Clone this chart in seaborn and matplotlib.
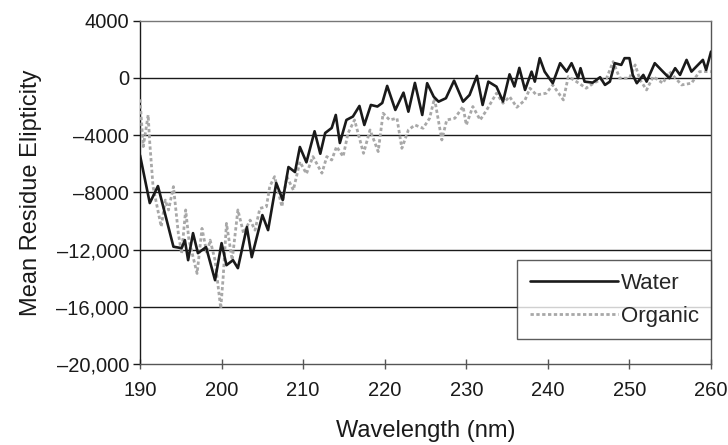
"""CD spectra: water vs organic solvent"""
import matplotlib
matplotlib.use("Agg")
import matplotlib.pyplot as plt
from matplotlib.lines import Line2D
import seaborn as sns
import pandas as pd

# Water spectrum (nm, mean residue ellipticity)
water_nm = [190.0, 191.2, 192.2, 194.1, 195.1, 195.5, 195.9, 196.5, 197.1, 198.1,
            199.2, 200.0, 200.6, 201.4, 202.0, 203.1, 203.7, 205.0, 205.7, 206.7,
            207.5, 208.2, 209.0, 209.6, 210.4, 211.4, 212.1, 212.7, 213.5, 214.0,
            214.5, 215.3, 216.1, 216.9, 217.5, 218.3, 219.1, 219.7, 220.3, 221.3,
            222.3, 222.9, 223.7, 224.6, 225.2, 226.0, 226.6, 227.5, 228.5, 229.6,
            230.4, 231.3, 232.0, 232.7, 233.7, 234.5, 235.3, 235.9, 236.5, 237.2,
            238.0, 238.4, 239.0, 239.6, 240.6, 241.5, 242.3, 242.9, 243.7, 244.0,
            244.5, 245.5, 246.4, 247.0, 247.6, 248.2, 249.0, 249.4, 250.0, 250.4,
            250.9, 251.7, 252.1, 253.1, 254.1, 254.9, 255.6, 256.2, 257.0, 257.6,
            258.4, 259.0, 259.4, 260.0]
water_mre = [-5400, -8750, -7560, -11800, -11900, -11340, -12740, -10850, -12250, -11830,
             -14140, -11550, -13090, -12740, -13300, -10430, -12530, -9590, -10640, -7350,
             -8540, -6230, -6580, -4830, -5900, -3730, -5300, -3850, -3500, -2590,
             -4550, -2940, -2700, -1960, -3290, -1890, -2000, -1750, -560, -2240,
             -1030, -2360, -350, -2590, -370, -1310, -1660, -1420, -190, -1660,
             -1190, 140, -1890, -260, -610, -1650, 250, -600, 700, -840,
             440, -260, 1380, 440, -370, 1030, 440, 1030, -20, 680,
             -260, -330, 50, -490, -260, 1030, 910, 1380, 1380, 210,
             -370, 210, -260, 1030, 440, -20, 680, 210, 1260, 440,
             910, 1260, 560, 1840]

# Organic solvent spectrum
organic_nm = [190.0, 190.4, 191.0, 191.2, 191.6, 192.6, 193.1, 193.5, 194.1, 194.7,
              195.1, 195.6, 196.0, 197.0, 197.6, 198.2, 198.6, 199.2, 199.9, 200.2,
              200.6, 201.3, 202.0, 202.7, 203.5, 204.1, 204.7, 205.5, 205.9, 206.5,
              207.4, 208.0, 208.8, 209.6, 210.4, 211.2, 212.3, 212.9, 213.5, 214.1,
              214.9, 215.5, 216.3, 217.4, 218.2, 219.2, 219.8, 220.6, 221.5, 222.1,
              222.9, 223.7, 224.7, 225.5, 226.1, 227.0, 227.6, 228.6, 229.6, 230.0,
              230.8, 231.7, 232.5, 233.7, 234.5, 235.3, 236.2, 237.2, 237.8, 238.6,
              239.8, 240.6, 241.9, 242.5, 243.5, 244.7, 245.6, 246.4, 247.2, 248.0,
              248.8, 250.0, 250.7, 251.3, 252.1, 252.9, 254.1, 254.9, 256.4, 257.6,
              258.6, 260.0]
organic_mre = [-1500, -4800, -2590, -4550, -7600, -10400, -8540, -9230, -7600, -10870,
               -12270, -9230, -11340, -13670, -10520, -12270, -11340, -12740, -16120, -13900,
               -10170, -12740, -9230, -10870, -9940, -10640, -9120, -9000, -7600, -6900,
               -9000, -6900, -7840, -5860, -6700, -5500, -6660, -5500, -5740, -4800,
               -5500, -3870, -2940, -5270, -3640, -5150, -2470, -2940, -2820, -4920,
               -3640, -3290, -3520, -2820, -1420, -4340, -2940, -2820, -2000, -3290,
               -2000, -2940, -2240, -1070, -1770, -1310, -2050, -1540, -720, -1190,
               -1070, -490, -1540, 90, -260, -720, -370, -140, -20, 1140,
               -20, -20, 910, -140, -840, 90, -370, 440, -490, -370,
               440, 440]

y_ticks = [4000, 0, -4000, -8000, -12000, -16000, -20000]
y_tick_labels = ["4000", "0", "\u20134000", "\u20138000", "\u201312,000",
                 "\u201316,000", "\u201320,000"]
x_ticks = [190, 200, 210, 220, 230, 240, 250, 260]

sns.set_style("white")
plt.rcParams["font.family"] = ["Liberation Sans", "DejaVu Sans"]

fig = plt.figure(figsize=(7.28, 4.45), dpi=100)
ax = fig.add_axes([0.1923, 0.182, 0.7844, 0.7715])

water = pd.DataFrame({"nm": water_nm, "mre": water_mre})
organic = pd.DataFrame({"nm": organic_nm, "mre": organic_mre})

sns.lineplot(data=organic, x="nm", y="mre", ax=ax, color="#a8a8a8",
             linewidth=2.0, linestyle=(0, (1.2, 0.9)), sort=False, zorder=3)
sns.lineplot(data=water, x="nm", y="mre", ax=ax, color="#1a1a1a",
             linewidth=1.9, sort=False, zorder=4, solid_joinstyle="round")

ax.set_xlim(190, 260)
ax.set_ylim(-20000, 4000)
ax.set_xticks(x_ticks)
ax.set_xticklabels([str(t) for t in x_ticks])
ax.set_yticks(y_ticks)
ax.set_yticklabels(y_tick_labels)

for t in y_ticks[1:-1]:
    ax.axhline(t, color="#1a1a1a", linewidth=1.0, zorder=1)

for side in ["left", "bottom", "right", "top"]:
    ax.spines[side].set_visible(True)
ax.spines["left"].set_color("#1a1a1a")
ax.spines["left"].set_linewidth(1.0)
ax.spines["bottom"].set_color("#555555")
ax.spines["bottom"].set_linewidth(1.0)
ax.spines["right"].set_color("#555555")
ax.spines["right"].set_linewidth(1.0)
ax.spines["top"].set_color("#777777")
ax.spines["top"].set_linewidth(1.0)

ax.tick_params(axis="y", direction="out", length=5, width=1, color="#1a1a1a",
               labelsize=14.5, labelcolor="#1a1a1a", pad=3, left=True)
ax.tick_params(axis="x", direction="inout", length=7, width=1, color="#555555",
               labelsize=14.5, labelcolor="#1a1a1a", pad=9, bottom=True)

ax.set_xlabel("Wavelength (nm)", fontsize=17, color="#1a1a1a", labelpad=14)
ax.set_ylabel("Mean Residue Elipticity", fontsize=17, color="#1a1a1a", labelpad=10)

handles = [Line2D([0], [0], color="#1a1a1a", linewidth=1.9),
           Line2D([0], [0], color="#a8a8a8", linewidth=2.0, linestyle=(0, (1.2, 0.9)))]
leg = ax.legend(handles, ["Water", "Organic"], loc="lower right",
                bbox_to_anchor=(1.0, 0.073), borderaxespad=0, fontsize=16,
                handlelength=4.0, handletextpad=0.1, labelspacing=0.55,
                frameon=True, fancybox=False, edgecolor="#333333",
                borderpad=0.55)
leg.get_frame().set_linewidth(1.0)
leg.set_zorder(5)

fig.savefig("out.png", dpi=100)
